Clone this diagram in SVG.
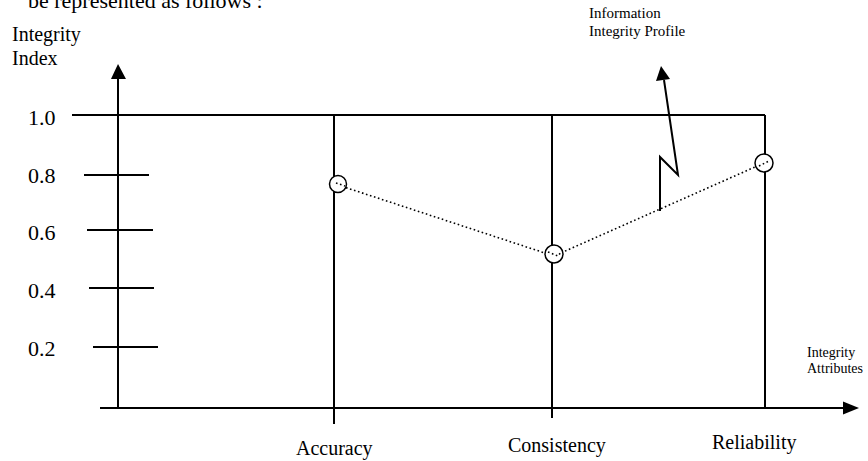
<svg xmlns="http://www.w3.org/2000/svg" width="868" height="461" viewBox="0 0 868 461">
<style>
text { font-family: "Liberation Serif", "Times New Roman", serif; fill: #000; }
.ln { stroke: #000; stroke-width: 2; fill: none; }
.dot { stroke: #000; stroke-width: 1.6; stroke-dasharray: 1.6 2.6; fill: none; }
.pt { stroke: #000; stroke-width: 1.5; fill: #fff; }
.num { font-size: 22px; }
.lbl { font-size: 20px; }
</style>
<rect width="868" height="461" fill="#fff"/>
<text x="28" y="8" font-size="22">be represented as follows :</text>
<g id="y-axis">
  <line class="ln" x1="118" y1="78" x2="118" y2="408"/>
  <polygon points="118,64 111,79 126,79" fill="#000"/>
  <text x="12" y="41" class="lbl">Integrity</text>
  <text x="12" y="65" class="lbl">Index</text>
</g>
<g id="x-axis">
  <line class="ln" x1="100" y1="408" x2="846" y2="408"/>
  <polygon points="859,408 843,401.5 843,414.5" fill="#000"/>
  <text x="807" y="357" font-size="14">Integrity</text>
  <text x="807" y="373" font-size="14">Attributes</text>
</g>
<g id="scale">
  <line class="ln" x1="72" y1="115" x2="765" y2="115"/>
  <text x="28" y="125" class="num">1.0</text>
  <line class="ln" x1="84" y1="175" x2="149" y2="175"/>
  <text x="28" y="183" class="num">0.8</text>
  <line class="ln" x1="87" y1="230" x2="153" y2="230"/>
  <text x="28" y="240" class="num">0.6</text>
  <line class="ln" x1="89" y1="288" x2="154" y2="288"/>
  <text x="28" y="298" class="num">0.4</text>
  <line class="ln" x1="93" y1="347" x2="158" y2="347"/>
  <text x="28" y="356" class="num">0.2</text>
</g>
<g id="accuracy">
  <line class="ln" x1="334" y1="115" x2="334" y2="424"/>
  <text x="296" y="455" class="lbl">Accuracy</text>
</g>
<g id="consistency">
  <line class="ln" x1="552" y1="115" x2="552" y2="418"/>
  <text x="508" y="452" class="lbl">Consistency</text>
</g>
<g id="reliability">
  <line class="ln" x1="765" y1="115" x2="765" y2="408"/>
  <text x="712" y="449" class="lbl">Reliability</text>
</g>
<g id="connectors">
  <polyline class="dot" points="338,185 554,256 764,163"/>
  <polyline class="ln" points="660,211 660,157 678,175 664,80"/>
  <polygon points="661,66 656,81 670,79" fill="#000"/>
</g>
<g id="profile-points">
  <circle class="pt" cx="338" cy="184" r="8.5"/>
  <circle class="pt" cx="554" cy="254" r="9"/>
  <circle class="pt" cx="764" cy="163" r="9"/>
  <polyline class="dot" points="336,183 345,186"/>
  <polyline class="dot" points="548,252 558,256 562,251"/>
  <polyline class="dot" points="759,166 769,161"/>
</g>
<g id="profile-label">
  <text x="589" y="18" font-size="15">Information</text>
  <text x="589" y="36" font-size="15">Integrity Profile</text>
</g>
</svg>
